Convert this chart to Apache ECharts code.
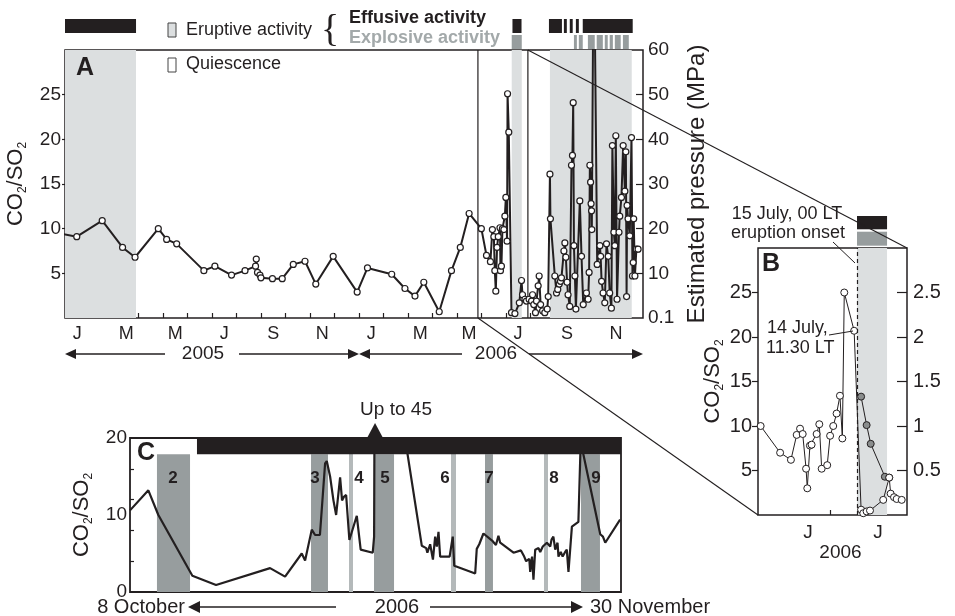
<!DOCTYPE html>
<html>
<head>
<meta charset="utf-8">
<title>CO2/SO2 ratio</title>
<script src="https://cdn.jsdelivr.net/npm/echarts@6/dist/echarts.min.js"></script>
<style>
    html, body { margin: 0; padding: 0; background: #fff; }
    #chart { width: 955px; height: 616px; }
</style>
</head>
<body>
<div id="chart"></div>
<script>
const INK = "#231f20";
const SHADE = "#dcdfe0";
const GREY = "#979d9e";
const GREY_LIGHT = "#b4b9ba";
const FONT = "\"Liberation Sans\", Arial, Helvetica, sans-serif";

// ---- panel A : months since 1 Jan 2005 / CO2-SO2 ratio
const monthA = [
    -0.3, 0.48, 1.52, 2.35, 2.86, 3.81, 4.15, 4.56, 5.67, 6.12,
    6.80, 7.35, 7.78, 7.81, 7.86, 7.96, 8.0, 8.47, 8.87, 9.32,
    9.8, 10.24, 10.95, 11.93, 12.35, 13.34, 13.88, 14.29, 14.65, 15.28,
    15.78, 16.14, 16.5, 17.0, 17.21, 17.37, 17.45, 17.51, 17.55, 17.59,
    17.64, 17.69, 17.76, 17.78, 17.82, 17.86, 17.92, 17.96, 18.0, 18.05,
    18.07, 18.12, 18.23, 18.37, 18.55, 18.64, 18.68, 18.78, 18.84, 18.95,
    19.05, 19.09, 19.14, 19.21, 19.25, 19.32, 19.36, 19.42, 19.50, 19.59,
    19.69, 19.73, 19.80, 19.82, 20.0, 20.07, 20.12, 20.18, 20.23, 20.27,
    20.37, 20.41, 20.45, 20.50, 20.54, 20.61, 20.68, 20.72, 20.75, 20.78,
    20.82, 20.86, 21.02, 21.09, 21.16, 21.29, 21.36, 21.40, 21.43, 21.46,
    21.48, 21.50, 21.51, 21.59, 21.73, 21.84, 21.87, 21.91, 21.97, 22.04,
    22.11, 22.18, 22.24, 22.31, 22.35, 22.41, 22.45, 22.49, 22.54, 22.62,
    22.65, 22.72, 22.79, 22.86, 22.90, 22.93, 22.95, 22.99, 23.06, 23.13,
    23.17, 23.20, 23.22, 23.27, 23.33, 23.40,
];
const ratioA = [
    9.5, 9.1, 10.9, 7.9, 6.8, 10.0, 8.8, 8.3, 5.3, 5.8,
    4.8, 5.3, 5.8, 6.6, 5.1, 4.8, 4.5, 4.4, 4.4, 6.0,
    6.35, 3.8, 6.9, 2.9, 5.6, 4.9, 3.3, 2.45, 4.0, 0.7,
    5.3, 7.9, 11.7, 10.0, 7.0, 6.3, 9.9, 9.1, 5.3, 3.0,
    7.9, 9.1, 10.1, 5.3, 5.8, 10.0, 9.9, 11.4, 13.5, 8.6,
    25.1, 20.8, 0.6, 0.5, 1.7, 4.2, 2.6, 2.1, 1.9, 2.1,
    1.9, 2.6, 1.5, 0.6, 1.9, 3.6, 4.7, 1.5, 0.8, 0.6,
    1.0, 2.4, 16.1, 11.1, 4.7, 2.8, 3.2, 3.8, 4.1, 4.5,
    7.5, 8.4, 6.8, 4.0, 2.6, 1.3, 17.1, 18.2, 24.1, 8.1,
    4.7, 1.0, 13.1, 6.9, 1.5, 2.8, 2.1, 5.1, 17.1, 15.2,
    12.8, 12.0, 9.9, 45, 6.0, 8.1, 6.9, 4.1, 2.8, 1.7,
    8.3, 6.9, 2.8, 1.1, 19.3, 9.6, 8.1, 20.4, 2.1, 9.6,
    11.4, 13.5, 19.3, 14.2, 18.6, 2.4, 12.6, 11.1, 9.2, 20.2,
    4.7, 6.2, 11.1, 4.7, 7.7, 7.7,
];
const monthTicksA = [1, 2, 3, 4, 5, 6, 7, 8, 9, 10, 11, 12, 13, 14, 15, 16, 17, 18, 19, 20, 21, 22, 23];
const monthLabelPosA = [0.5, 2.5, 4.5, 6.5, 8.5, 10.5, 12.5, 14.5, 16.5, 18.5, 20.5, 22.5];
const monthLetterA = ["J", "M", "M", "J", "S", "N", "J", "M", "M", "J", "S", "N"];
const eruptiveA = [[0, 2.9], [18.24, 18.65], [19.80, 23.14]];
const effusiveA = [[0, 2.9], [18.27, 18.64], [19.76, 20.29], [20.37, 20.49], [20.61, 20.73], [20.86, 20.98], [21.14, 23.18]];
const explosiveA = [[18.24, 18.65], [20.78, 20.90], [20.98, 21.14], [21.35, 21.63], [21.71, 21.96], [22.04, 22.16], [22.24, 22.37], [22.45, 22.69], [22.78, 23.02]];
const zoomBoxA = [16.86, 18.9];
const ratioTicks = [5, 10, 15, 20, 25];

// ---- panel B : day of 2006
const dayB = [
    154.9, 163.0, 167.5, 169.9, 171.3, 172.4, 173.8, 174.3, 175.4, 176.1,
    178.2, 179.3, 180.3, 182.6, 183.8, 185.1, 186.5, 187.9, 188.9, 189.7,
    193.8, 196.7, 197.6, 199.0, 200.4, 205.9, 208.4, 209.0, 210.4, 211.5,
    213.6,
];
const ratioB = [
    10.0, 7.0, 6.2, 9.0, 9.7, 9.1, 5.2, 3.0, 7.8, 7.9,
    9.1, 10.2, 5.2, 5.6, 8.9, 10.0, 11.4, 13.4, 8.6, 25.0,
    20.7, 0.6, 0.2, 0.4, 0.5, 1.7, 4.2, 2.4, 2.0, 1.8,
    1.7,
];
const dayB2 = [196.7, 199.0, 200.7, 206.6, 208.4];
const rightB2 = [1.33, 1.01, 0.80, 0.43, 0.42];
const eruptionB = [[195, 207.5]];
const onsetB = 195;
const tickB = [184];
const labelPosB = [174.6, 203.7];
const labelB = ["J", "J"];

// ---- panel C : days since 8 October 2006
const dayC = [
    0, 1.98, 3.06, 6.73, 9.29, 15.12, 16.74, 18.54, 18.9, 19.62,
    19.98, 20.5, 21.06, 21.24, 21.6, 21.96, 22.25, 22.68, 22.89, 23.11,
    23.33, 23.68, 24.48, 24.9, 26.2, 26.35, 26.45, 31.5, 31.97, 32.1,
    32.4, 32.7, 32.94, 33.12, 33.3, 33.48, 34.5, 34.84, 35.0, 37.26,
    37.43, 37.7, 38.15, 39.15, 39.5, 39.77, 39.96, 41.4, 42.2, 42.55,
    42.76, 43.1, 43.2, 43.4, 43.55, 43.74, 44.1, 44.28, 44.56, 45.0,
    45.36, 45.5, 45.7, 45.9, 46.15, 46.25, 46.5, 46.7, 46.97, 47.15,
    47.33, 47.5, 47.7, 48.4, 48.65, 50.76, 51.05, 51.3, 52.9,
];
const ratioC = [
    10.6, 13.2, 10.0, 2.1, 0.9, 3.1, 2.0, 5.0, 4.1, 8.1,
    7.4, 7.4, 16.7, 17.0, 15.0, 11.9, 10.0, 14.9, 11.9, 12.4,
    12.6, 6.75, 9.9, 5.5, 5.1, 7.2, 45, 6.0, 5.7, 5.1,
    6.2, 4.2, 7.2, 5.9, 7.8, 4.6, 4.6, 7.2, 3.4, 2.4,
    5.6, 6.2, 7.6, 6.6, 6.1, 7.3, 6.4, 5.1, 5.4, 4.6,
    4.0, 4.3, 2.6, 4.6, 1.6, 5.5, 5.7, 5.2, 5.9, 6.4,
    5.9, 6.8, 7.2, 5.5, 6.4, 4.6, 5.2, 4.6, 5.2, 5.5,
    2.6, 2.4, 8.5, 9.1, 19.5, 7.5, 7.2, 6.4, 9.4,
];
const bandsDarkC = [[2.91, 6.48], [19.54, 21.37], [26.34, 28.5], [38.32, 39.18], [48.68, 50.73]];
const bandsLightC = [[23.64, 24.07], [34.65, 35.19], [44.69, 45.12]];
const bandNamesC = ["2", "3", "4", "5", "6", "7", "8", "9"];
const bandLabelDayC = [4.64, 19.97, 24.72, 27.53, 34.0, 38.75, 45.77, 50.3];
const effusiveC = [[7.23, 53]];

const A_MAX = 23.6, B_MIN = 153.8, B_MAX = 215.8, C_MAX = 53;

const ratioName = "{n|CO}{s|2}{n|/SO}{s|2}";
const ratioRich = {
    n: { fontSize: 22, fontFamily: FONT, color: INK, lineHeight: 26 },
    s: { fontSize: 12, fontFamily: FONT, color: INK, lineHeight: 12, verticalAlign: "bottom" },
};

function band(fill) {
    return function (params, api) {
        const a = api.coord([api.value(0), api.value(3)]);
        const b = api.coord([api.value(1), api.value(2)]);
        const cs = params.coordSys;
        const shape = echarts.graphic.clipRectByRect(
            { x: a[0], y: Math.min(a[1], b[1]), width: b[0] - a[0], height: Math.abs(b[1] - a[1]) },
            { x: cs.x, y: cs.y, width: cs.width, height: cs.height },
        );
        return shape && { type: "rect", shape, style: { fill } };
    };
}

function bandSeries(xi, yi, ranges, y0, y1, fill, z) {
    return {
        type: "custom",
        xAxisIndex: xi,
        yAxisIndex: yi,
        renderItem: band(fill),
        encode: { x: [0, 1], y: [2, 3] },
        data: ranges.map(([a, b]) => [a, b, y0, y1]),
        silent: true,
        z,
    };
}

const lbl = (extra) => Object.assign({ color: INK, fontFamily: FONT, fontSize: 19 }, extra);
const tick = (extra) => Object.assign({ lineStyle: { color: INK, width: 1.2 } }, extra);
const noLine = { show: false };
const noSplit = { show: false };
const pick = (pos, names) => (v) => names[pos.findIndex(p => Math.abs(p - v) < 1e-6)] || "";

const option = {
    animation: false,
    backgroundColor: "#fff",
    textStyle: { fontFamily: FONT, color: INK },
    grid: [
        { left: 65, top: 50, width: 578, height: 268, show: true, borderColor: INK, borderWidth: 1.5, containLabel: false, outerBoundsMode: "none" },
        { left: 65, top: 18, width: 578, height: 32, containLabel: false, outerBoundsMode: "none" },
        { left: 758, top: 248, width: 149, height: 267, show: true, borderColor: INK, borderWidth: 1.5, containLabel: false, outerBoundsMode: "none" },
        { left: 758, top: 214, width: 149, height: 34, containLabel: false, outerBoundsMode: "none" },
        { left: 130, top: 438, width: 491, height: 154, show: true, borderColor: INK, borderWidth: 1.8, containLabel: false, outerBoundsMode: "none" },
    ],
    xAxis: [
        {
            gridIndex: 0, type: "value", min: 0, max: A_MAX,
            axisLine: noLine, splitLine: noSplit,
            axisTick: tick({ inside: true, length: 5, customValues: monthTicksA }),
            axisLabel: lbl({ fontSize: 18, margin: 7, customValues: monthLabelPosA, formatter: pick(monthLabelPosA, monthLetterA) }),
        },
        { gridIndex: 1, type: "value", min: 0, max: A_MAX, show: false },
        {
            gridIndex: 2, type: "value", min: B_MIN, max: B_MAX,
            axisLine: noLine, splitLine: noSplit,
            axisTick: tick({ inside: true, length: 5, customValues: tickB }),
            axisLabel: lbl({ margin: 8, customValues: labelPosB, formatter: pick(labelPosB, labelB) }),
            name: "2006", nameLocation: "middle", nameGap: 28,
            nameTextStyle: { fontSize: 19, fontFamily: FONT, color: INK, padding: [0, 0, 0, 16] },
        },
        { gridIndex: 3, type: "value", min: B_MIN, max: B_MAX, show: false },
        {
            gridIndex: 4, type: "value", min: 0, max: C_MAX,
            axisLine: noLine, splitLine: noSplit, axisTick: { show: false }, axisLabel: { show: false },
        },
    ],
    yAxis: [
        {
            gridIndex: 0, type: "value", position: "left", min: 0, max: 30, interval: 5,
            axisLine: noLine, splitLine: noSplit,
            axisTick: tick({ length: 3, customValues: ratioTicks }),
            axisLabel: lbl({ margin: 4, customValues: ratioTicks }),
            name: ratioName, nameLocation: "middle", nameGap: 31, nameRotate: 90,
            nameTextStyle: { rich: ratioRich },
        },
        {
            gridIndex: 0, type: "value", position: "right", min: 0, max: 60, interval: 10,
            axisLine: noLine, splitLine: noSplit,
            axisTick: tick({ inside: true, length: 7, customValues: [10, 20, 30, 40, 50] }),
            axisLabel: lbl({ margin: 5, formatter: v => (v === 0 ? "0.1" : String(v)) }),
            name: "Estimated pressure (MPa)", nameLocation: "middle", nameGap: 38, nameRotate: 90,
            nameTextStyle: { fontSize: 24, fontFamily: FONT, color: INK },
        },
        { gridIndex: 1, type: "value", min: 0, max: 32, inverse: true, show: false },
        {
            gridIndex: 2, type: "value", position: "left", min: 0, max: 30, interval: 5,
            axisLine: noLine, splitLine: noSplit,
            axisTick: tick({ length: 6, customValues: ratioTicks }),
            axisLabel: lbl({ fontSize: 20, margin: 6, customValues: ratioTicks }),
            name: ratioName, nameLocation: "middle", nameGap: 31, nameRotate: 90,
            nameTextStyle: { rich: ratioRich },
        },
        {
            gridIndex: 2, type: "value", position: "right", min: 0, max: 3, interval: 0.5,
            axisLine: noLine, splitLine: noSplit,
            axisTick: tick({ inside: true, length: 10, customValues: [0.5, 1, 1.5, 2, 2.5] }),
            axisLabel: lbl({ fontSize: 20, margin: 6, customValues: [0.5, 1, 1.5, 2, 2.5] }),
        },
        { gridIndex: 3, type: "value", min: 0, max: 34, inverse: true, show: false },
        {
            gridIndex: 4, type: "value", position: "left", min: 0, max: 20, interval: 10,
            axisLine: noLine, splitLine: noSplit,
            axisTick: tick({ inside: true, length: 4, customValues: [4, 8, 12, 16] }),
            axisLabel: lbl({ margin: 3, customValues: [0, 10, 20] }),
            name: ratioName, nameLocation: "middle", nameGap: 23, nameRotate: 90,
            nameTextStyle: { rich: ratioRich },
        },
    ],
    series: [
        // panel A
        bandSeries(0, 0, eruptiveA, 0, 30, SHADE, 1),
        {
            type: "custom", xAxisIndex: 0, yAxisIndex: 0, silent: true, z: 3,
            encode: { x: 0, y: 1 },
            data: zoomBoxA.map(v => [v, 0]),
            renderItem: (params, api) => {
                const cs = params.coordSys;
                const x = api.coord([api.value(0), 0])[0];
                return { type: "line", shape: { x1: x, y1: cs.y, x2: x, y2: cs.y + cs.height }, style: { stroke: INK, lineWidth: 1.2 } };
            },
        },
        {
            type: "line", xAxisIndex: 0, yAxisIndex: 0, z: 4, clip: true,
            data: monthA.map((m, i) => [m, ratioA[i]]),
            symbol: "circle", symbolSize: 6,
            lineStyle: { color: INK, width: 2 },
            itemStyle: { color: "#fff", borderColor: INK, borderWidth: 1.2 },
        },
        bandSeries(1, 2, effusiveA, 1, 15, INK, 2),
        bandSeries(1, 2, explosiveA, 17, 31, GREY, 2),

        // panel B
        bandSeries(2, 3, eruptionB, 0, 30, SHADE, 1),
        {
            type: "line", xAxisIndex: 2, yAxisIndex: 3, z: 4, clip: true,
            data: dayB.map((d, i) => [d, ratioB[i]]),
            symbol: "circle", symbolSize: 7,
            lineStyle: { color: INK, width: 1 },
            itemStyle: { color: "#fff", borderColor: INK, borderWidth: 1 },
            markLine: {
                silent: true, symbol: ["none", "none"], label: { show: false },
                lineStyle: { type: [4, 3], color: INK, width: 1.2 },
                data: [{ xAxis: onsetB }],
            },
        },
        {
            type: "line", xAxisIndex: 2, yAxisIndex: 4, z: 3, clip: true,
            data: dayB2.map((d, i) => [d, rightB2[i]]),
            symbol: "circle", symbolSize: 7,
            lineStyle: { color: INK, width: 1 },
            itemStyle: { color: "#8a8d8d", borderColor: INK, borderWidth: 1 },
        },
        bandSeries(3, 5, eruptionB, 2, 15.3, INK, 2),
        bandSeries(3, 5, eruptionB, 17.7, 31.7, GREY, 2),

        // panel C
        bandSeries(4, 6, bandsDarkC, 0, 17.9, GREY, 1),
        bandSeries(4, 6, bandsLightC, 0, 18.2, GREY_LIGHT, 1),
        {
            type: "line", xAxisIndex: 4, yAxisIndex: 6, z: 3, clip: true,
            data: dayC.map((d, i) => [d, ratioC[i]]),
            showSymbol: false, symbol: "none",
            lineStyle: { color: INK, width: 2.2 },
        },
        bandSeries(4, 6, effusiveC, 17.9, 20, INK, 5),
        {
            type: "custom", xAxisIndex: 4, yAxisIndex: 6, silent: true, z: 6,
            encode: { x: 0, y: 1 },
            data: bandLabelDayC.map(d => [d, 14.8]),
            renderItem: (params, api) => {
                const p = api.coord([api.value(0), api.value(1)]);
                return {
                    type: "text", x: p[0], y: p[1],
                    style: { text: bandNamesC[params.dataIndex], fill: INK, fontSize: 17, fontWeight: "bold", fontFamily: FONT, align: "center", verticalAlign: "middle" },
                };
            },
        },
    ],
};

let gid = 0;
const txt = (x, y, text, extra) => ({
    id: "t" + (gid++), type: "text", x, y, z: 100, silent: true,
    style: Object.assign({ text, fill: INK, fontSize: 18, fontFamily: FONT, align: "left", verticalAlign: "middle" }, extra),
});
const seg = (x1, y1, x2, y2, w) => ({
    id: "l" + (gid++), type: "line", z: 100, silent: true,
    shape: { x1, y1, x2, y2 }, style: { stroke: INK, lineWidth: w || 1.2 },
});
const box = (x, y, w, h, fill) => ({
    id: "r" + (gid++), type: "rect", z: 100, silent: true,
    shape: { x, y, width: w, height: h }, style: { fill, stroke: "#444", lineWidth: 1 },
});
function arrow(x0, x1, y, len, half) {
    const dir = Math.sign(x1 - x0);
    const base = x1 - dir * len;
    return [
        seg(x0, y, base, y, 1.3),
        { id: "p" + (gid++), type: "polygon", z: 100, silent: true, shape: { points: [[x1, y], [base, y - half], [base, y + half]] }, style: { fill: INK } },
    ];
}

const staticGraphic = [
    // legend
    box(168, 23, 8, 14, SHADE),
    txt(186, 30, "Eruptive activity"),
    box(168, 58, 8, 14, "#fff"),
    txt(186, 64, "Quiescence"),
    txt(330, 31, "{", { fontSize: 38, fontFamily: "\"Liberation Serif\", \"Times New Roman\", serif", align: "center" }),
    txt(349, 18, "Effusive activity", { fontWeight: "bold" }),
    txt(349, 38, "Explosive activity", { fontWeight: "bold", fill: "#a3a9aa" }),
    // panel letters
    txt(85, 68, "A", { fontSize: 25, fontWeight: "bold", align: "center" }),
    txt(771, 264, "B", { fontSize: 25, fontWeight: "bold", align: "center" }),
    txt(146, 453, "C", { fontSize: 25, fontWeight: "bold", align: "center" }),
    // panel B notes
    txt(787, 214, "15 July, 00 LT", { align: "center" }),
    txt(788, 233, "eruption onset", { align: "center" }),
    seg(833, 242, 855, 263, 1),
    txt(767, 328, "14 July,"),
    txt(766, 348, "11.30 LT"),
    seg(829, 335, 853, 331, 1),
    // panel A years
    ...arrow(165, 65, 354, 11, 5),
    txt(203, 354, "2005", { fontSize: 19, align: "center" }),
    ...arrow(239, 359, 354, 11, 5),
    ...arrow(462, 359, 354, 11, 5),
    txt(496, 354, "2006", { fontSize: 19, align: "center" }),
    ...arrow(529, 643, 354, 11, 5),
    // panel C dates
    txt(185, 607, "8 October", { fontSize: 20, align: "right" }),
    ...arrow(336, 188, 607, 12, 6),
    txt(397, 607, "2006", { fontSize: 20, align: "center" }),
    ...arrow(430, 583, 607, 12, 6),
    txt(590, 607, "30 November", { fontSize: 20 }),
];
option.graphic = { elements: staticGraphic };

const chart = echarts.init(document.getElementById("chart"));
chart.setOption(option);

// connectors between panels, placed from the axes themselves
const pA = v => chart.convertToPixel({ xAxisIndex: 0, yAxisIndex: 0 }, v);
const pB = v => chart.convertToPixel({ xAxisIndex: 2, yAxisIndex: 3 }, v);
const pC = v => chart.convertToPixel({ xAxisIndex: 4, yAxisIndex: 6 }, v);
const aTop = pA([zoomBoxA[1], 30]), bTop = pB([B_MAX, 30]);
const aBot = pA([zoomBoxA[0], 0]), bBot = pB([B_MIN, 0]);
const spikeDay = dayC[ratioC.indexOf(Math.max(...ratioC))];
const sp = pC([spikeDay, 20]);

chart.setOption({
    graphic: {
        elements: [
            { id: "cn1", type: "line", z: 100, silent: true, shape: { x1: aTop[0], y1: aTop[1], x2: bTop[0], y2: bTop[1] }, style: { stroke: INK, lineWidth: 1.1 } },
            { id: "cn2", type: "line", z: 100, silent: true, shape: { x1: aBot[0], y1: aBot[1], x2: bBot[0], y2: bBot[1] }, style: { stroke: INK, lineWidth: 1.1 } },
            { id: "up1", type: "polygon", z: 100, silent: true, shape: { points: [[sp[0], sp[1] - 15], [sp[0] - 8, sp[1]], [sp[0] + 8, sp[1]]] }, style: { fill: INK } },
            { id: "up2", type: "text", z: 100, silent: true, x: sp[0] + 21, y: sp[1] - 28, style: { text: "Up to 45", fill: INK, fontSize: 19, fontFamily: FONT, align: "center", verticalAlign: "middle" } },
        ],
    },
});
</script>
</body>
</html>
